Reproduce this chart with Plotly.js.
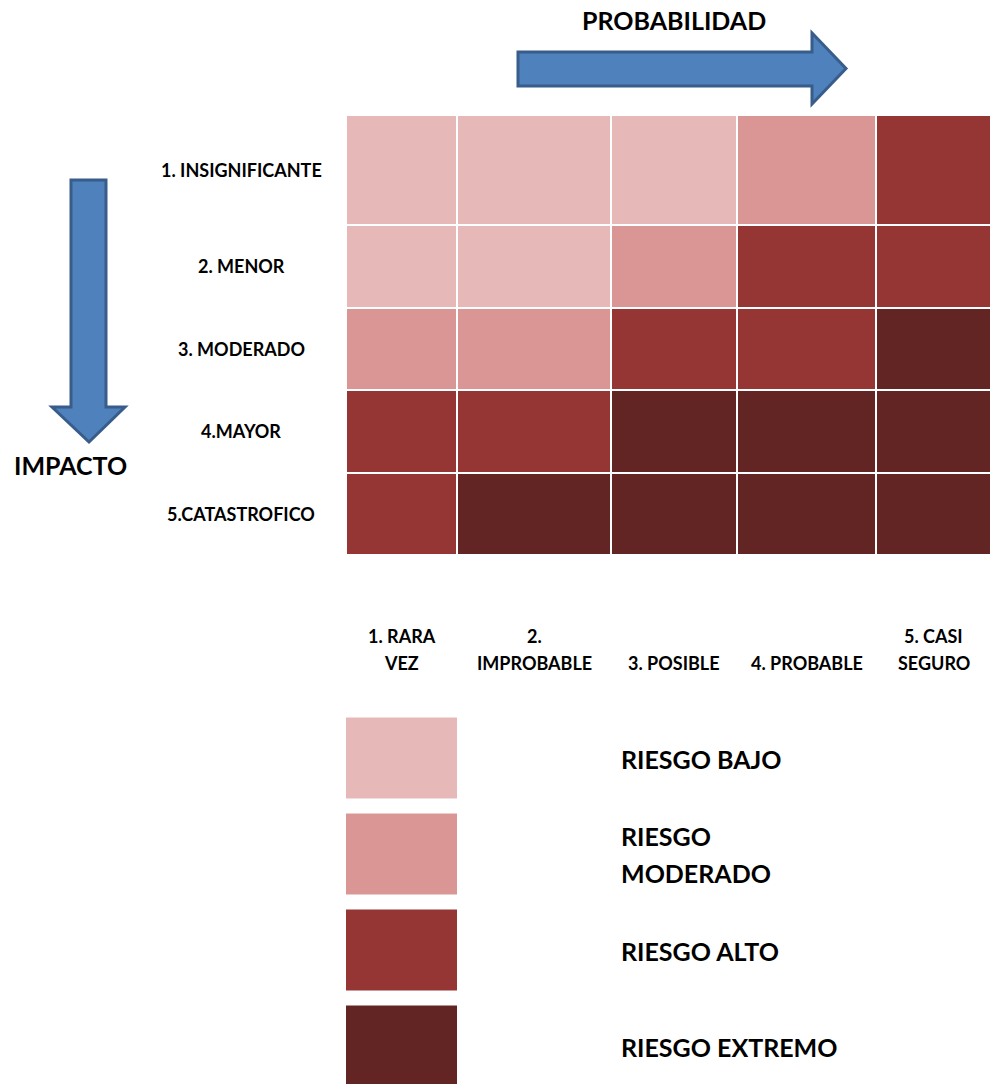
<!DOCTYPE html>
<html>
<head>
<meta charset="utf-8">
<script src="https://cdn.plot.ly/plotly-3.0.1.min.js"></script>
<style>html,body{margin:0;padding:0;background:#fff;}#chart{width:991px;height:1084px;}</style>
</head>
<body>
<div id="chart"></div>
<script>
// ---- data ----
const probabilidad = ["1. RARA\nVEZ", "2.\nIMPROBABLE", "3. POSIBLE", "4. PROBABLE", "5. CASI\nSEGURO"];
const impacto = ["1. INSIGNIFICANTE", "2. MENOR", "3. MODERADO", "4.MAYOR", "5.CATASTROFICO"];
// risk level: 1 bajo, 2 moderado, 3 alto, 4 extremo (rows = impacto, cols = probabilidad)
const riesgo = [
  [1, 1, 1, 2, 3],
  [1, 1, 2, 3, 3],
  [2, 2, 3, 3, 4],
  [3, 3, 4, 4, 4],
  [3, 4, 4, 4, 4]
];
const nivelesRiesgo = ["RIESGO BAJO", "RIESGO\nMODERADO", "RIESGO ALTO", "RIESGO EXTREMO"];
const nivelValores = [1, 2, 3, 4];
const ejeX = "PROBABILIDAD";
const ejeY = "IMPACTO";

// ---- layout geometry / styles ----
const W = 991, H = 1084;
const colWidths = [111, 154, 126, 139, 115];
const rowHeights = [110, 83, 82, 83, 82];
const colors = ["#E6B8B7", "#DA9694", "#963634", "#632523"];
const FONT = "Lato, 'Open Sans', sans-serif";

function cum(a){ const r=[0]; a.forEach(v=>r.push(r[r.length-1]+v)); return r; }
const xEdges = cum(colWidths), yEdges = cum(rowHeights);
const colCenters = colWidths.map((w,i)=>xEdges[i]+w/2);
const rowCenters = rowHeights.map((h,i)=>yEdges[i]+h/2);
const px = x => x / W, py = y => 1 - y / H;

const cs = [];
colors.forEach((c,i)=>{ cs.push([i/4, c]); cs.push([(i+1)/4, c]); });

const traces = [
  {
    type: 'heatmap', z: riesgo, x: xEdges, y: yEdges,
    xaxis: 'x', yaxis: 'y', colorscale: cs, zmin: 0.5, zmax: 4.5,
    showscale: false, xgap: 2, ygap: 2, hoverinfo: 'skip'
  },
  {
    type: 'heatmap', z: nivelValores.map(v=>[v]), x: [0], y: nivelValores.map((v,i)=>i),
    xaxis: 'x2', yaxis: 'y2', colorscale: cs, zmin: 0.5, zmax: 4.5,
    showscale: false, ygap: 15, hoverinfo: 'skip'
  }
];

const annotations = [];
// column labels (bottom aligned, manual line spacing)
probabilidad.forEach((lab,i)=>{
  const ls = lab.split("\n");
  ls.forEach((t,j)=>{
    annotations.push({text:t, x: colCenters[i], xref:'x', y: py(676), yref:'paper',
      xanchor:'center', yanchor:'bottom', yshift: (ls.length-1-j)*27, showarrow:false,
      font:{family:FONT, size:18, color:'#000', weight:'bold'}});
  });
});
// row labels
impacto.forEach((lab,i)=>{
  annotations.push({text:lab, x: px(241), xref:'paper', y: rowCenters[i], yref:'y',
    xanchor:'center', yanchor:'middle', showarrow:false,
    font:{family:FONT, size:18, color:'#000', weight:'bold'}});
});
// legend labels
nivelesRiesgo.forEach((lab,i)=>{
  const ls = lab.split("\n");
  ls.forEach((t,j)=>{
    annotations.push({text:t, x: px(619), xref:'paper', y: i, yref:'y2',
      xanchor:'left', yanchor:'middle', yshift: ((ls.length-1)/2 - j)*37, showarrow:false,
      font:{family:FONT, size:25, color:'#000', weight:'bold'}});
  });
});
annotations.push({text:ejeX, x:px(674), xref:'paper', y:py(20), yref:'paper', xanchor:'center', yanchor:'middle',
  showarrow:false, font:{family:FONT, size:25, color:'#000', weight:'bold'}});
annotations.push({text:ejeY, x:px(70), xref:'paper', y:py(465), yref:'paper', xanchor:'center', yanchor:'middle',
  showarrow:false, font:{family:FONT, size:25, color:'#000', weight:'bold'}});

function pathOf(pts){ return 'M' + pts.map(p=>px(p[0]).toFixed(5)+','+py(p[1]).toFixed(5)).join(' L') + ' Z'; }
const arrowH = [[518,52],[812,52],[812,33],[846,68.5],[812,104],[812,86],[518,86]];
const arrowV = [[71,180],[106,180],[106,407],[125,407],[89,442],[52,407],[71,407]];
const shapes = [arrowH, arrowV].map(p=>({type:'path', xref:'paper', yref:'paper', path: pathOf(p),
  fillcolor:'#4F81BD', line:{color:'#385D8A', width:3}}));

const noAx = {showgrid:false, zeroline:false, showticklabels:false, ticks:'', showline:false, fixedrange:true};
const layout = {
  width: W, height: H, margin:{l:0,r:0,t:0,b:0}, paper_bgcolor:'#fff', plot_bgcolor:'rgba(0,0,0,0)',
  showlegend:false,
  xaxis: Object.assign({}, noAx, {domain:[px(346), 1], range:[0, xEdges[5]], anchor:'y'}),
  yaxis: Object.assign({}, noAx, {domain:[py(555), py(115)], range:[yEdges[5], 0], anchor:'x'}),
  xaxis2: Object.assign({}, noAx, {domain:[px(346), px(457)], range:[-0.5, 0.5], anchor:'y2'}),
  yaxis2: Object.assign({}, noAx, {domain:[0, py(710.5)], range:[-0.5 + (H-710.5)/96, -0.5], anchor:'x2'}),
  annotations, shapes
};
Plotly.newPlot('chart', traces, layout, {staticPlot:true, displayModeBar:false});
</script>
</body>
</html>
